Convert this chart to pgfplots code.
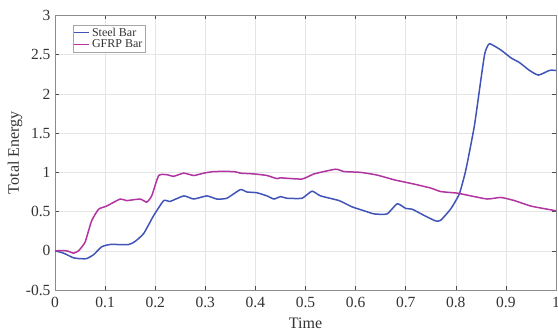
\documentclass[border=0pt]{standalone}
\usepackage{fontspec}
\setmainfont{Liberation Serif}
\usepackage{pgfplots}
\pgfplotsset{compat=1.18}
\definecolor{steel}{RGB}{64,84,184}
\definecolor{gfrp}{RGB}{178,52,160}
\begin{document}
\begin{tikzpicture}
\begin{axis}[name=ax,
  scale only axis, width=501pt, height=274.5pt,
  xmin=0, xmax=1, ymin=-0.5, ymax=3,
  xtick={0,0.1,0.2,0.3,0.4,0.5,0.6,0.7,0.8,0.9,1},
  xticklabels={0,0.1,0.2,0.3,0.4,0.5,0.6,0.7,0.8,0.9,1},
  ytick={-0.5,0,0.5,1,1.5,2,2.5,3},
  yticklabels={-0.5,0,0.5,1,1.5,2,2.5,3},
  tick align=inside, tick pos=both,
  major tick length=4pt,
  tick style={black!70, line width=0.5pt},
  axis line style={black!45, line width=0.6pt},
  grid=major, major grid style={black!10, line width=0.5pt},
  ticklabel style={font=\fontsize{15.5}{17}\selectfont, text=black!80},
  xticklabel style={yshift=-4pt},
  yticklabel style={xshift=-1pt},
  xlabel={Time}, ylabel={Total Energy},
  label style={font=\fontsize{16}{18}\selectfont, text=black!80},
  xlabel style={at={(rel axis cs:0.5,0)}, anchor=center, yshift=-33pt},
  ylabel style={at={(rel axis cs:0,0.5)}, anchor=center, yshift=40pt},
  legend style={at={(rel axis cs:0,1)}, anchor=north west, xshift=18pt, yshift=-9.5pt,
    draw=black!35, font=\fontsize{12}{13}\selectfont, inner sep=0.5pt, row sep=-1.5pt, text=black!80},
  legend cell align=left,
  legend image code/.code={\draw[#1, line width=1.3pt] (0pt,0pt) -- (15pt,0pt);},
]
\addplot[steel, line width=1.5pt, smooth, tension=0.3] coordinates {
(0,0) (0.017,-0.03) (0.037,-0.09) (0.05,-0.1) (0.063,-0.1) (0.077,-0.05) (0.093,0.05) (0.11,0.08)
(0.147,0.08) (0.16,0.12) (0.177,0.22) (0.197,0.45) (0.217,0.64) (0.23,0.63) (0.257,0.70) (0.277,0.66)
(0.303,0.70) (0.323,0.66) (0.343,0.67) (0.37,0.78) (0.383,0.75) (0.403,0.74) (0.423,0.70) (0.437,0.66)
(0.45,0.69) (0.463,0.67) (0.493,0.67) (0.513,0.76) (0.53,0.70) (0.567,0.64) (0.593,0.56) (0.617,0.51)
(0.637,0.47) (0.663,0.47) (0.683,0.60) (0.70,0.54) (0.713,0.53) (0.737,0.45) (0.76,0.38) (0.77,0.39)
(0.79,0.535) (0.807,0.725) (0.82,1.03) (0.837,1.59) (0.85,2.18) (0.858,2.52) (0.867,2.64) (0.89,2.56)
(0.91,2.46) (0.927,2.40) (0.947,2.30) (0.965,2.24) (0.987,2.30) (1.0,2.30)
};
\addlegendentry{Steel Bar}
\addplot[gfrp, line width=1.5pt, smooth, tension=0.3] coordinates {
(0,0.0) (0.023,0) (0.037,-0.03) (0.047,0) (0.06,0.11) (0.073,0.38) (0.087,0.53) (0.103,0.57)
(0.13,0.66) (0.143,0.64) (0.17,0.66) (0.183,0.62) (0.193,0.70) (0.207,0.96) (0.223,0.97) (0.237,0.95)
(0.257,0.99) (0.277,0.96) (0.297,0.99) (0.317,1.01) (0.357,1.01) (0.37,0.99) (0.397,0.98) (0.423,0.96)
(0.443,0.92) (0.45,0.93) (0.493,0.915) (0.517,0.98) (0.56,1.04) (0.577,1.01) (0.61,1.0) (0.643,0.965)
(0.677,0.905) (0.717,0.85) (0.75,0.80) (0.77,0.755) (0.803,0.735) (0.83,0.70) (0.863,0.66) (0.89,0.68)
(0.917,0.64) (0.95,0.57) (0.983,0.53) (1.0,0.51)
};
\addlegendentry{GFRP Bar}
\end{axis}
\pgfresetboundingbox
\path[use as bounding box] ([shift={(-55pt,-41pt)}]ax.south west) rectangle ([shift={(2pt,15.5pt)}]ax.north east);
\end{tikzpicture}
\end{document}
